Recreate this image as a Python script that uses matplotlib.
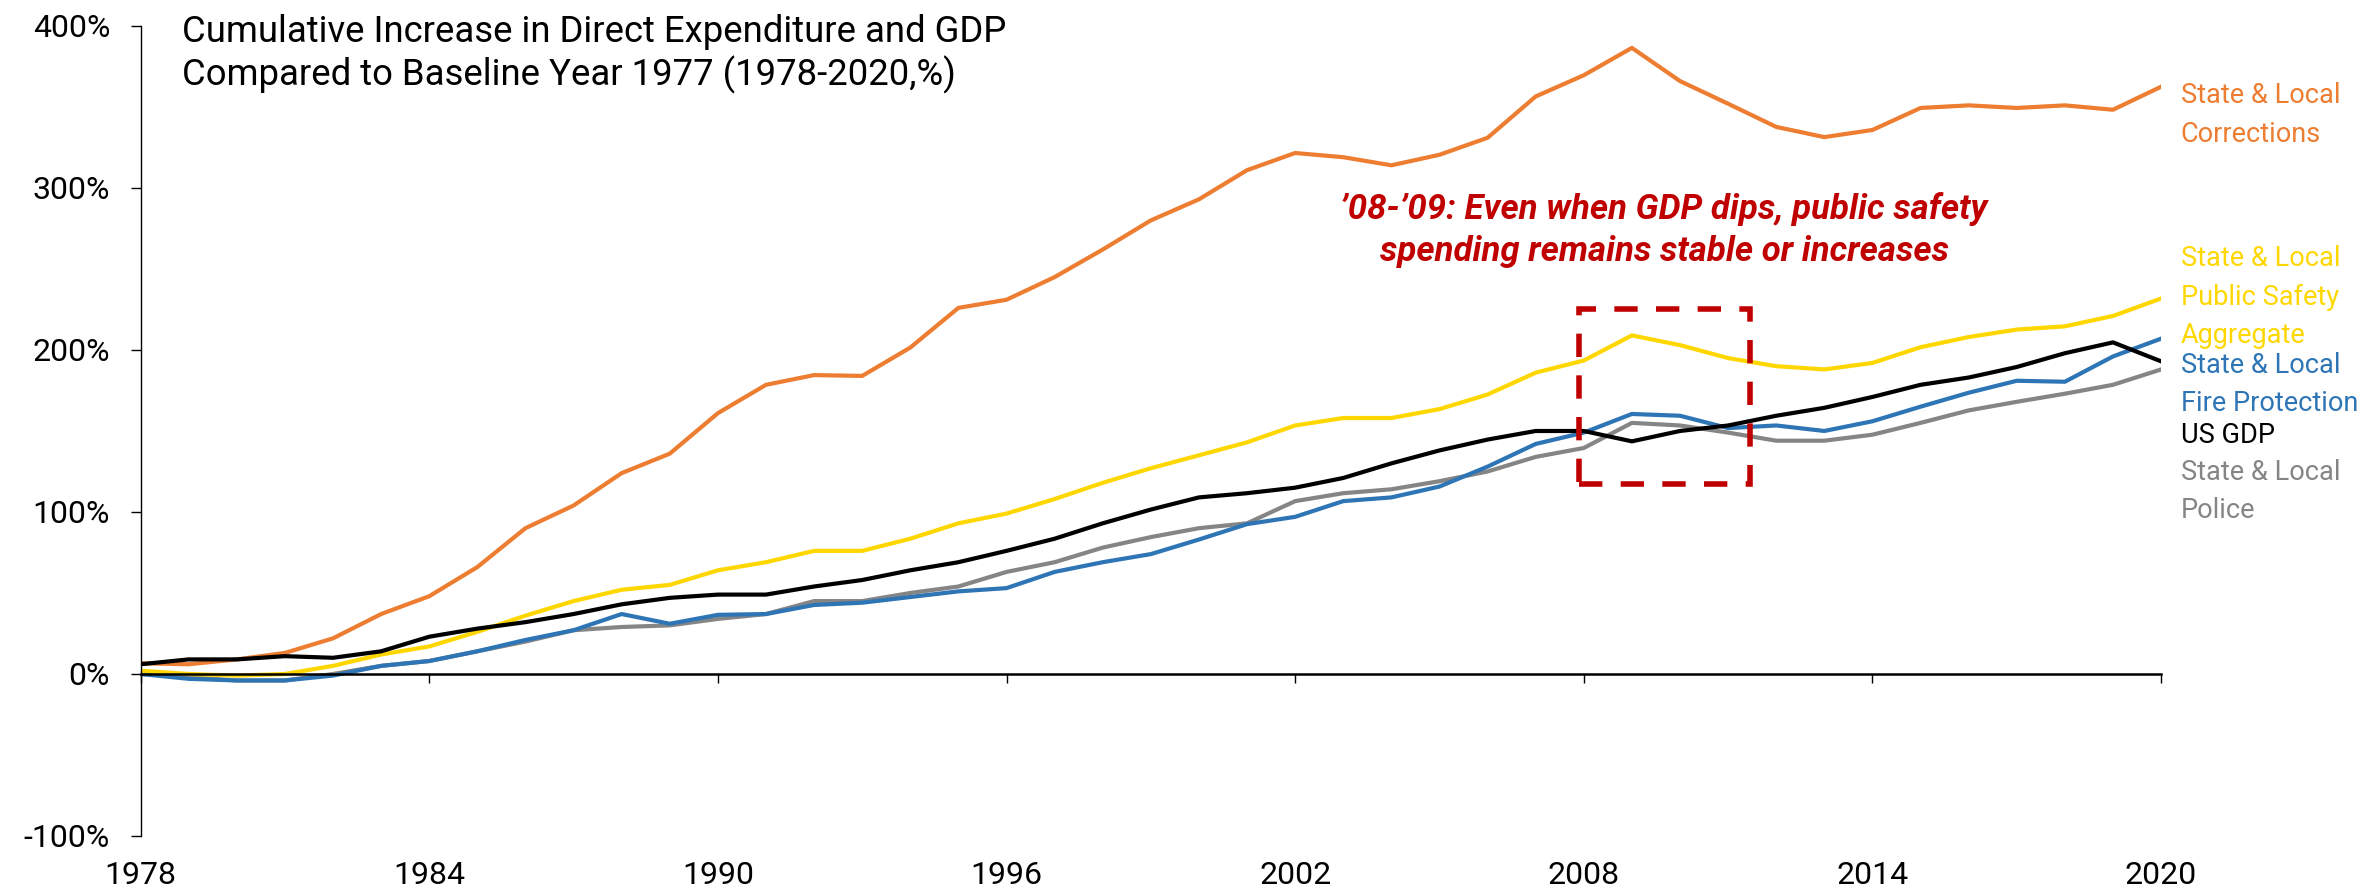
import numpy as np
import matplotlib.pyplot as plt
from matplotlib.patches import Rectangle

plt.rcParams['font.family'] = ['Roboto', 'DejaVu Sans']

# данные (% к базовому 1977 году)
years = np.arange(1978, 2021)

corrections = [6.6, 6, 9, 13, 22, 37, 48, 66, 90, 104, 124,
               136, 161, 178.5, 184.5, 184, 201.5, 226, 231, 245, 262, 280,
               293, 311, 321.6, 319, 314, 320.5, 331, 356.5, 369.6, 386.5,
               366, 352, 337.7, 331.4, 335.8, 349.4, 351, 349.4, 351, 348.3, 362.5]
public_safety = [2, 0, -1, 0, 5, 12, 17, 26, 36, 45, 52,
                 55, 64, 69, 76, 76, 83.5, 93, 99, 108, 118, 127,
                 135, 143, 153.4, 158, 158, 163.5, 172.5, 186, 193.5, 209,
                 203, 195, 190, 188, 192, 201.7, 208, 212.6, 214.6, 221, 231.8]
fire = [0, -3, -4, -4, -1, 5, 8, 14, 21, 27, 37,
        31, 36.5, 37, 42.6, 44, 47.5, 51, 53, 63, 69, 74,
        83, 92.5, 97, 106.7, 109, 115.7, 128, 142, 149, 160.5,
        159.4, 151.8, 153.4, 150, 156, 165, 173.6, 181, 180.4, 196, 207]
gdp = [6, 9, 9, 11, 10, 14, 23, 28, 32, 37, 43,
       47, 49, 49, 54, 58, 64, 69, 76, 83.5, 93, 101.5,
       109, 111.6, 115, 121, 130, 138, 144.7, 150, 150, 143.6,
       150, 153.4, 159.4, 164.3, 171, 178.5, 183, 189.5, 198, 204.7, 193]
police = [0, -2, -4, -4, 0, 5, 8, 14, 20, 27, 29,
          30, 34, 37, 45, 45, 50, 54, 63, 69, 78, 84.5,
          90, 93, 106.7, 111.6, 114, 119, 125, 134, 139.5, 155,
          153.4, 149, 144, 144, 147.7, 155, 162.7, 168, 173, 178.5, 188]

names = ["State & Local\nCorrections",
         "State & Local\nPublic Safety\nAggregate",
         "State & Local\nFire Protection",
         "US GDP",
         "State & Local\nPolice"]
series = [corrections, public_safety, fire, gdp, police]
colors = ["#ED7D31", "#FFD700", "#2E75B6", "#000000", "#858585"]
label_y = [345, 232.7, 178.7, 147.5, 112.7]

fig = plt.figure(figsize=(23.79, 8.90), dpi=100)
ax = fig.add_axes([0.0591, 0.0607, 0.8493, 0.9101])

# линии: сначала серая, чёрная сверху
for i in [4, 2, 1, 0, 3]:
    ax.plot(years, series[i], color=colors[i], lw=3)

for name, c, y in zip(names, colors, label_y):
    ax.text(2020.41, y, name, color=c, fontsize=19.5, ha="left", va="center",
            linespacing=1.55, clip_on=False)

# рамка 2008-2011
ax.add_patch(Rectangle((2007.9, 117.4), 3.55, 108, fill=False, ec="#C00000",
                       lw=4, ls=(0, (4.2, 3.3)), zorder=6))
ax.text(2009.67, 274, "\u201908-\u201909: Even when GDP dips, public safety\nspending remains stable or increases",
        color="#C00000", fontsize=25, fontweight="bold", fontstyle="italic",
        ha="center", va="center", multialignment="center", linespacing=1.35)

fig.text(182 / 2379, 0.9846,
         "Cumulative Increase in Direct Expenditure and GDP\nCompared to Baseline Year 1977 (1978-2020,%)",
         fontsize=26.3, ha="left", va="top", linespacing=1.2)

ax.set_xlim(1978, 2020)
ax.set_ylim(-100, 400)
ax.spines["top"].set_visible(False)
ax.spines["right"].set_visible(False)
ax.spines["bottom"].set_position(("data", 0))
ax.spines["bottom"].set_linewidth(1.8)
ax.spines["left"].set_linewidth(1)
ax.set_xticks(range(1978, 2021, 6))
ax.set_yticks(range(-100, 401, 100))
ax.yaxis.set_major_formatter(lambda v, p: f"{v:.0f}%")
ax.tick_params(axis="x", direction="out", length=6.5, width=1, pad=128, labelsize=23)
ax.tick_params(axis="y", direction="out", length=7, width=1, pad=15, labelsize=23)

plt.savefig("out.png", dpi=100)
